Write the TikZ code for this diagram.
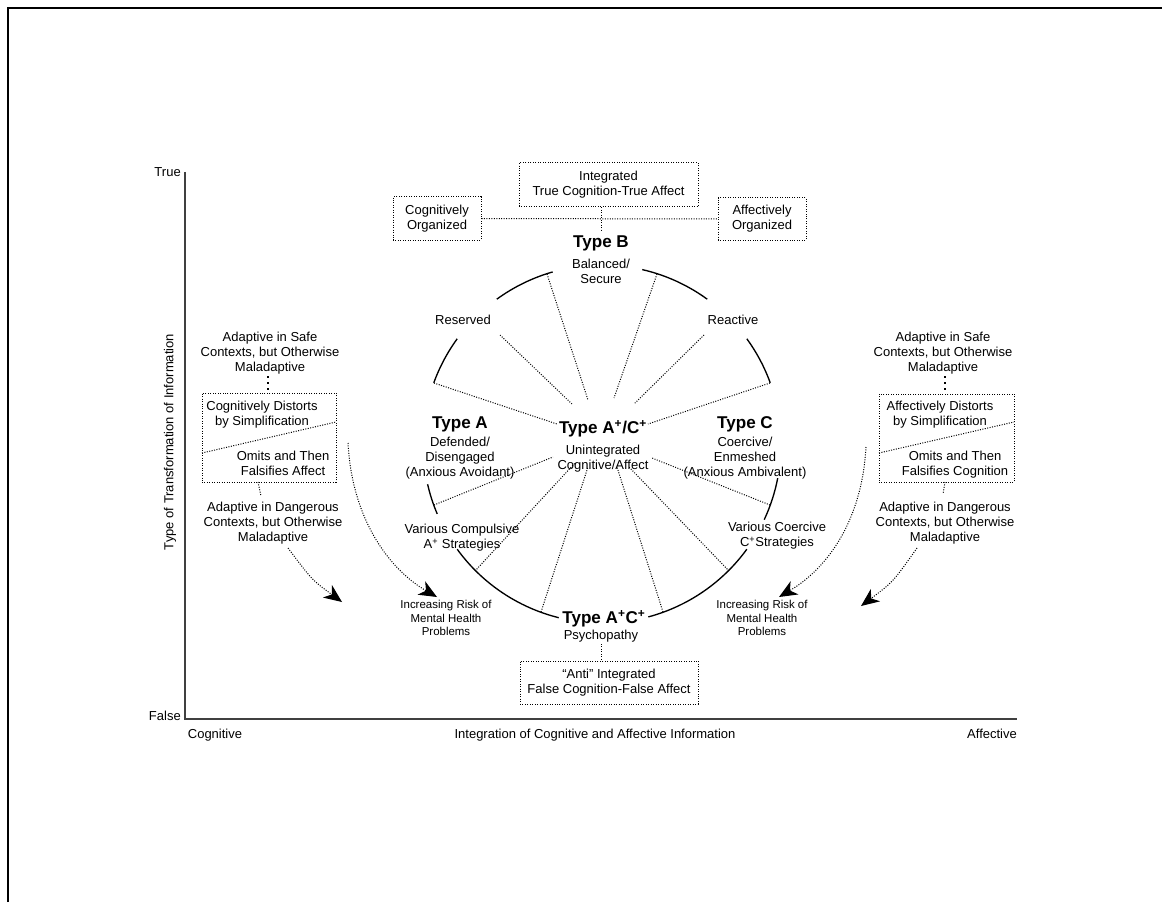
\documentclass[tikz,border=0pt]{standalone}
\usepackage{fontspec}
\setmainfont{Liberation Sans}
\usetikzlibrary{arrows.meta}

\begin{document}
\begin{tikzpicture}[x=0.75pt,y=-0.75pt,
  txt/.style={align=center,inner sep=0pt,font=\fontsize{9.75}{11.4}\selectfont},
  small/.style={align=center,inner sep=0pt,font=\fontsize{8.6}{10.2}\selectfont},
  big/.style={inner sep=0pt,font=\fontsize{12.8}{14}\selectfont\bfseries},
  dots/.style={line width=0.75pt,dash pattern=on 0.75pt off 1.1pt},
  dbox/.style={draw,dots,inner sep=0pt,align=center,font=\fontsize{9.75}{11.4}\selectfont},
  ellip/.style={line width=1.7pt,dash pattern=on 1.8pt off 2.7pt},
  ring/.style={line width=1pt},
  axis/.style={line width=1.6pt,draw=black!75},
  risk/.style={dots,-{Stealth[length=13.5pt,width=11.5pt,inset=4pt]}},
]
\useasboundingbox (0,0) rectangle (1162,902);

% frame
\draw[line width=1.5pt] (8,902) -- (8,8) -- (1162,8);

% axes
\coordinate (ytop) at (185,172);
\coordinate (origin) at (185,719);
\coordinate (xend) at (1017,719);
\draw[axis] (ytop) -- (origin) -- (xend);
\node[txt,anchor=east] (true) at (181,172) {True};
\node[txt,anchor=east] (false) at (181,716) {False};
\node[txt] (cog) at (215,735) {Cognitive};
\node[txt] (integ) at (595,735) {Integration of Cognitive and Affective Information};
\node[txt] (aff) at (992,734) {Affective};
\node[txt,rotate=90] (ylab) at (170,442) {Type of Transformation of Information};

% the circle, broken where its labels sit
\coordinate (C) at (602,444);
\foreach \a/\b in {106/126,144/160,193/203,216/256,285/324,335/349,20/36,54/77}
  \draw[ring] (C) ++(-\a:179) arc[start angle=-\a,end angle=-\b,radius=179];

% dotted spokes toward the centre
\foreach \o/\i in {{(547,274)}/{(588,400)},{(657,274)}/{(614,398)},
                   {(500,335)}/{(572,404)},{(704,335)}/{(634,404)},
                   {(434,383)}/{(557,424)},{(770,383)}/{(648,424)},
                   {(434,505)}/{(553,457)},{(770,505)}/{(652,458)},
                   {(475,571)}/{(575,463)},{(541,612)}/{(588,467)},
                   {(663,612)}/{(617,467)},{(729,571)}/{(629,467)}}
  \draw[dots] \o -- \i;

% circle labels
\node[big] (typeB) at (601,243) {Type B};
\node[txt] (balanced) at (601,271) {Balanced/\\Secure};
\node[txt] (reserved) at (463,320) {Reserved};
\node[txt] (reactive) at (733,320) {Reactive};
\node[big] (typeA) at (460,424) {Type A};
\node[txt] (defended) at (460,458) {Defended/\\Disengaged\\(Anxious Avoidant)};
\node[big] (typeAC) at (603,429) {Type A\textsuperscript{+}/C\textsuperscript{+}};
\node[txt] (uninteg) at (603,459) {Unintegrated\\Cognitive/Affect};
\node[big] (typeC) at (745,424) {Type C};
\node[txt] (coercive) at (745,458) {Coercive/\\Enmeshed\\(Anxious Ambivalent)};
\node[txt] (compulsive) at (462,538) {Various Compulsive\\A\textsuperscript{+} Strategies};
\node[txt] (coercstrat) at (777,536) {Various Coercive\\C\textsuperscript{+}Strategies};
\node[big] (typeACpsy) at (604,619) {Type A\textsuperscript{+}C\textsuperscript{+}};
\node[txt] (psycho) at (601,636) {Psychopathy};

% boxes above Type B
\node[dbox,minimum width=134.25pt,minimum height=33pt] (integrated) at (608.5,185)
  {Integrated\\True Cognition-True Affect};
\node[dbox,minimum width=66pt,minimum height=32.25pt] (cogorg) at (437,218.5)
  {Cognitively\\Organized};
\node[dbox,minimum width=66pt,minimum height=31.5pt] (afforg) at (762,219)
  {Affectively\\Organized};
\coordinate (bjoin) at (601,231);
\draw[dots] (cogorg.east) -- (afforg.west);
\draw[dots] (integrated.south -| bjoin) -- (bjoin);

% box below Type A+C+
\node[dbox,minimum width=133.5pt,minimum height=32.25pt] (anti) at (609,682.5)
  {``Anti'' Integrated\\False Cognition-False Affect};
\coordinate (pjoin) at (601,644);
\draw[dots] (pjoin) -- (pjoin |- anti.north);

% left column
\node[txt] (safeL) at (270,353) {Adaptive in Safe\\Contexts, but Otherwise\\Maladaptive};
\node[draw,dots,minimum width=100.5pt,minimum height=66.75pt] (boxL) at (269,437.5) {};
\node[txt] (distL) at (262,415) {Cognitively Distorts\\by Simplification};
\node[txt] (omitL) at (283,463) {Omits and Then\\Falsifies Affect};
\coordinate (cutLa) at (202,453);
\coordinate (cutLb) at (336,422);
\draw[dots] (cutLa) -- (cutLb);
\coordinate (elLa) at (268,376);
\draw[ellip] (elLa) -- (elLa |- boxL.north);
\coordinate (jLa) at (258,482);
\coordinate (jLb) at (261,496);
\draw[dots] (jLa) -- (jLb);
\node[txt] (dangerL) at (273,523) {Adaptive in Dangerous\\Contexts, but Otherwise\\Maladaptive};

% right column
\node[txt] (safeR) at (943,353) {Adaptive in Safe\\Contexts, but Otherwise\\Maladaptive};
\node[draw,dots,minimum width=101.25pt,minimum height=66pt] (boxR) at (946.5,438) {};
\node[txt] (distR) at (940,415) {Affectively Distorts\\by Simplification};
\node[txt] (omitR) at (955,465) {Omits and Then\\Falsifies Cognition};
\coordinate (cutRa) at (879,453);
\coordinate (cutRb) at (1014,422);
\draw[dots] (cutRa) -- (cutRb);
\coordinate (elRa) at (945,376);
\draw[ellip] (elRa) -- (elRa |- boxR.north);
\coordinate (jRa) at (945,482);
\coordinate (jRb) at (943,494);
\draw[dots] (jRa) -- (jRb);
\node[txt] (dangerR) at (945,523) {Adaptive in Dangerous\\Contexts, but Otherwise\\Maladaptive};

% risk labels
\node[small] (riskL) at (446,618) {Increasing Risk of\\Mental Health\\Problems};
\node[small] (riskR) at (762,618) {Increasing Risk of\\Mental Health\\Problems};

% risk arrows
\coordinate (aLo1) at (288,548);
\coordinate (aLo2) at (342,602);
\draw[risk] (aLo1) .. controls (312,580) .. (aLo2);
\coordinate (aLi1) at (348,443);
\coordinate (aLi2) at (437,597);
\draw[risk] (aLi1) .. controls (352,520) and (390,570) .. (aLi2);
\coordinate (aRi1) at (866,447);
\coordinate (aRi2) at (779,597);
\draw[risk] (aRi1) .. controls (862,520) and (828,568) .. (aRi2);
\coordinate (aRo1) at (917,548);
\coordinate (aRo2) at (861,606);
\draw[risk] (aRo1) .. controls (893,582) .. (aRo2);
\end{tikzpicture}
\end{document}
